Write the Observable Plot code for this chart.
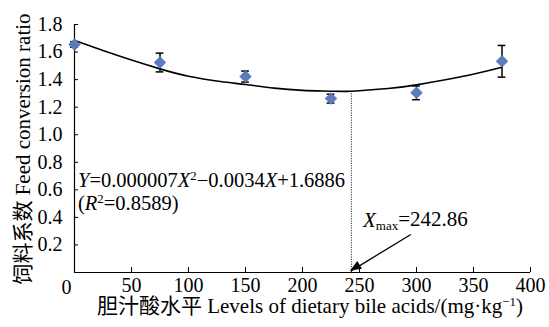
<!DOCTYPE html>
<html><head><meta charset="utf-8">
<script src="https://cdn.jsdelivr.net/npm/d3@7"></script>
<script src="https://cdn.jsdelivr.net/npm/@observablehq/plot@0.6"></script>
<style>
body{margin:0;background:#fff}
</style>
</head><body><div id="chart"></div>
<script>
// measured data
const levels = [0, 75, 150, 225, 300, 375];
const fcr = [1.655, 1.524, 1.422, 1.262, 1.304, 1.533];
const sd = [0.02, 0.068, 0.04, 0.032, 0.05, 0.115];
// fitted curve as drawn in the reference
const fitX = [0, 25, 50, 75, 100, 128, 150, 175, 200, 225, 242.86, 275, 300, 340, 375];
const fitY = [1.684, 1.611, 1.542, 1.478, 1.424, 1.386, 1.364, 1.338, 1.322, 1.316, 1.316, 1.335, 1.362, 1.422, 1.49];
const xMax = 242.86;
const yAtXmax = 1.316;
const xTicks = [50, 100, 150, 200, 250, 300, 350, 400];
const yTicks = [0.2, 0.4, 0.6, 0.8, 1.0, 1.2, 1.4, 1.6, 1.8];
const arrowFrom = {x: 295, y: 0.276};
const arrowTo = {x: 242.3, y: 0.01};

const data = levels.map((x, i) => ({x, y: fcr[i], lo: fcr[i] - sd[i], hi: fcr[i] + sd[i]}));
const fit = fitX.map((x, i) => ({x, y: fitY[i]}));
const cap = 3.4;
const FONT = '"Liberation Serif", "Noto Sans CJK SC", serif';

const plot = Plot.plot({
  width: 549, height: 327,
  marginLeft: 74, marginRight: 19, marginTop: 24, marginBottom: 55,
  x: {domain: [0, 400]},
  y: {domain: [0, 1.8]},
  style: {fontSize: "20px", color: "black", background: "white", overflow: "visible"},
  marks: [
    Plot.axisY({ticks: yTicks, tickFormat: d => d.toFixed(1), tickSize: -4, tickPadding: 16, label: null, fontSize: 20}),
    Plot.axisX({ticks: xTicks, tickSize: -5, tickPadding: 10, label: null, fontSize: 20}),
    Plot.text(["0"], {x: () => 0, y: () => 0, dx: -8, dy: 15, fontSize: 20, text: d => d}),
    Plot.ruleX([0], {y1: 0, y2: 1.8, stroke: "black", strokeWidth: 1.2}),
    Plot.ruleY([0], {x1: 0, x2: 400, stroke: "black", strokeWidth: 1.2}),
    Plot.ruleX([xMax], {y1: 0, y2: yAtXmax, stroke: "#333", strokeDasharray: "1.2,1.2", strokeWidth: 1}),
    Plot.line(fit, {x: "x", y: "y", curve: "natural", stroke: "black", strokeWidth: 1.6}),
    Plot.ruleX(data, {x: "x", y1: "lo", y2: "hi", stroke: "black", strokeWidth: 1.5}),
    Plot.ruleY(data, {y: "hi", x1: d => d.x - cap, x2: d => d.x + cap, stroke: "black", strokeWidth: 1.5}),
    Plot.ruleY(data, {y: "lo", x1: d => d.x - cap, x2: d => d.x + cap, stroke: "black", strokeWidth: 1.5}),
    Plot.dot(data, {x: "x", y: "y", symbol: "diamond2", r: 5.6, fill: "#5a7cbd", stroke: "none"}),
    Plot.link([0], {x1: () => arrowFrom.x, y1: () => arrowFrom.y, x2: () => arrowTo.x, y2: () => arrowTo.y, stroke: "black", strokeWidth: 1.3})
  ]
});
document.getElementById("chart").appendChild(plot);

const sx = plot.scale("x"), sy = plot.scale("y");
const svg = d3.select(plot);

// filled arrow head
{
  const x1 = sx.apply(arrowFrom.x), y1 = sy.apply(arrowFrom.y);
  const x2 = sx.apply(arrowTo.x), y2 = sy.apply(arrowTo.y);
  const a = Math.atan2(y2 - y1, x2 - x1), L = 11, W = 4.5;
  const bx = x2 - L * Math.cos(a), by = y2 - L * Math.sin(a);
  const px = -Math.sin(a) * W, py = Math.cos(a) * W;
  svg.append("path").attr("d", `M${x2},${y2}L${bx + px},${by + py}L${bx - px},${by - py}Z`).attr("fill", "black");
}

function addText(x, y, parts, opts = {}) {
  const t = svg.append("text").attr("x", x).attr("y", y)
    .attr("font-size", opts.size || 20).attr("fill", "black")
    .attr("text-anchor", opts.anchor || "start");
  if (opts.transform) t.attr("transform", opts.transform).attr("x", 0).attr("y", 0);
  for (const p of parts) {
    const s = t.append("tspan").text(p.t);
    if (p.i) s.attr("font-style", "italic");
    if (p.sup) s.attr("font-size", "0.62em").attr("dy", "-0.55em");
    if (p.sub) s.attr("font-size", "0.62em").attr("dy", "0.3em");
    if (p.back) s.attr("dy", p.back);
  }
  return t;
}

// equation
addText(sx.apply(3.5), sy.apply(0.617), [
  {t: "Y", i: 1}, {t: "=0.000007"}, {t: "X", i: 1}, {t: "2", sup: 1},
  {t: "\u22120.0034", back: "0.34em"}, {t: "X", i: 1}, {t: "+1.6886"}
], {size: 20.5});
addText(sx.apply(3.5), sy.apply(0.452), [
  {t: "("}, {t: "R", i: 1}, {t: "2", sup: 1}, {t: "=0.8589)", back: "0.34em"}
], {size: 20.5});
// Xmax label
addText(sx.apply(253.5), sy.apply(0.33), [
  {t: "X", i: 1}, {t: "max", sub: 1}, {t: "=242.86", back: "-0.19em"}
], {size: 21});
// x label
addText(310, 313, [
  {t: "胆汁酸水平 Levels of dietary bile acids/(mg·kg"}, {t: "\u22121", sup: 1}, {t: ")", back: "0.34em"}
], {anchor: "middle", size: 21});
// y label
addText(0, 0, [{t: "饲料系数 Feed conversion ratio"}], {anchor: "middle", size: 21, transform: "translate(30,149) rotate(-90)"});

// force serif font on every text
svg.selectAll("text").style("font-family", FONT);
svg.style("font-family", FONT);
</script>
</body></html>
